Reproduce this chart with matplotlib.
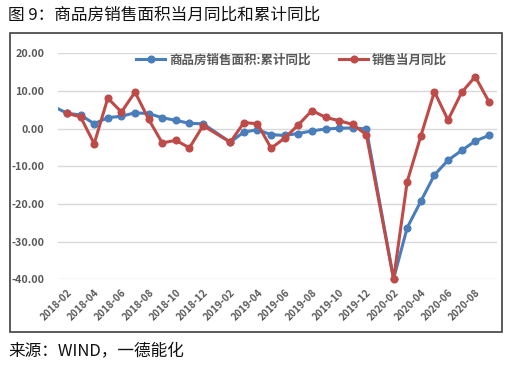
import matplotlib
matplotlib.use("Agg")
import matplotlib.pyplot as plt
from matplotlib.patches import Rectangle

plt.rcParams['font.family'] = ['Noto Sans CJK SC', 'DejaVu Sans']

# month index: 2017-12 = -1, 2018-01 = 0, ... 2020-09 = 32
months = ["2017-12",
          "2018-02", "2018-03", "2018-04", "2018-05", "2018-06", "2018-07",
          "2018-08", "2018-09", "2018-10", "2018-11", "2018-12",
          "2019-02", "2019-03", "2019-04", "2019-05", "2019-06", "2019-07",
          "2019-08", "2019-09", "2019-10", "2019-11", "2019-12",
          "2020-02", "2020-03", "2020-04", "2020-05", "2020-06", "2020-07",
          "2020-08", "2020-09"]
cum_yoy = [7.7,
           4.1, 3.6, 1.3, 2.9, 3.3, 4.2, 4.0, 2.9, 2.2, 1.4, 1.3,
           -3.6, -0.9, -0.3, -1.6, -1.8, -1.3, -0.6, -0.1, 0.1, 0.2, -0.1,
           -39.9, -26.3, -19.3, -12.3, -8.4, -5.8, -3.3, -1.8]
mon_yoy = [None,
           4.1, 3.1, -4.0, 8.1, 4.4, 9.7, 2.5, -3.8, -3.1, -5.1, 0.8,
           -3.6, 1.6, 1.3, -5.2, -2.5, 1.0, 4.8, 3.0, 2.1, 1.1, -1.6,
           -39.9, -14.1, -2.0, 9.8, 2.3, 9.6, 13.8, 7.2]
tick_labels = ["2018-02", "2018-04", "2018-06", "2018-08", "2018-10", "2018-12",
               "2019-02", "2019-04", "2019-06", "2019-08", "2019-10", "2019-12",
               "2020-02", "2020-04", "2020-06", "2020-08"]
yticks = [20, 10, 0, -10, -20, -30, -40]
series_names = ["商品房销售面积:累计同比", "销售当月同比"]
title = "图 9：商品房销售面积当月同比和累计同比"
source = "来源：WIND，一德能化"

def midx(s):
    y, m = s.split("-")
    return (int(y) - 2018) * 12 + int(m) - 1

W, H = 509, 366
fig = plt.figure(figsize=(W / 100, H / 100), dpi=100)

# outer box
fig.patches.append(Rectangle((10 / W, 1 - 332 / H), 492 / W, 299 / H,
                             transform=fig.transFigure, fill=False,
                             edgecolor="#404040", linewidth=1.2))

ax = fig.add_axes([58 / W, 1 - 279.3 / H, 439 / W, 226 / H])
ax.set_facecolor("none")

blue = "#4A7EBB"
red = "#BE4B48"

xs = [midx(m) for m in months]
ax.plot(xs, cum_yoy, color=blue, lw=2.2, marker="o", ms=4.8,
        label=series_names[0], zorder=3)
xr = [x for x, v in zip(xs, mon_yoy) if v is not None]
yr = [v for v in mon_yoy if v is not None]
ax.plot(xr, yr, color=red, lw=2.2, marker="o", ms=4.8,
        label=series_names[1], zorder=4, clip_on=False)

ax.set_xlim(0.34, 32.6)
ax.set_ylim(-40, 20)
ax.set_yticks(yticks)
ax.set_yticklabels([f"{v:.2f}" for v in yticks])
ax.set_xticks([midx(t) for t in tick_labels])
ax.set_xticklabels(tick_labels, rotation=45, ha="right", va="top",
                   rotation_mode="anchor")
ax.grid(axis="y", color="#D9D9D9", lw=1)
ax.set_axisbelow(True)
for s in ax.spines.values():
    s.set_visible(False)
ax.tick_params(axis="both", length=0, colors="#595959")
ax.tick_params(axis="y", labelsize=7.8, pad=10)
ax.tick_params(axis="x", labelsize=7.2, pad=6)
for lab in ax.get_yticklabels() + ax.get_xticklabels():
    lab.set_fontweight("bold")

leg = ax.legend(loc="upper center", bbox_to_anchor=(0.532, 1.05), ncol=2,
                frameon=False, fontsize=9, handlelength=2.3,
                columnspacing=2.3, handletextpad=0.3)
for t in leg.get_texts():
    t.set_color("#595959")
    t.set_fontweight("bold")

fig.text(8 / W, 1 - 15 / H, title, fontsize=12, va="center", ha="left",
         color="#111111")
fig.text(8 / W, 1 - 352 / H, source, fontsize=12, va="center", ha="left",
         color="#111111")

fig.savefig("out.png", dpi=100)
